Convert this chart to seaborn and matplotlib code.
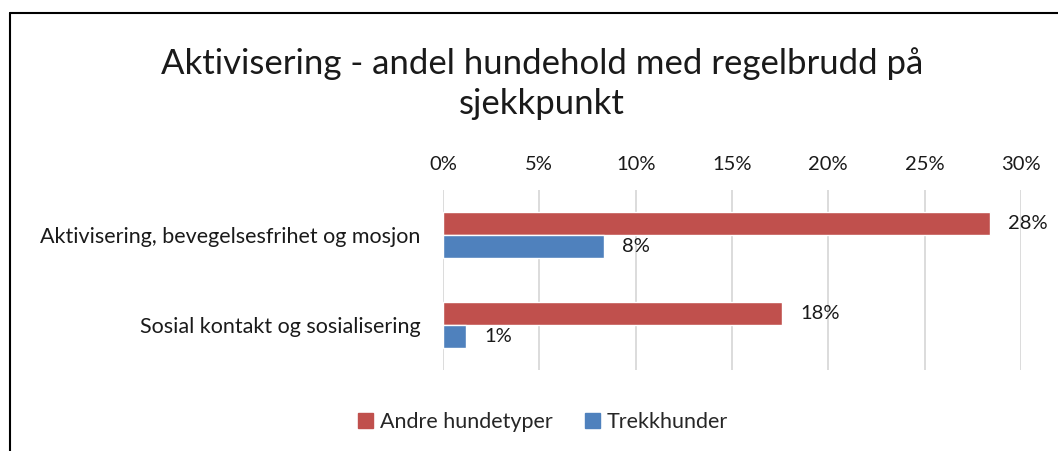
import pandas as pd
import matplotlib.pyplot as plt
import seaborn as sns
from matplotlib.lines import Line2D

# Chart data (percent)
categories = ["Aktivisering, bevegelsesfrihet og mosjon", "Sosial kontakt og sosialisering"]
series_names = ["Andre hundetyper", "Trekkhunder"]
andre = [28.4, 17.6]
trekk = [8.35, 1.2]
x_ticks = [0, 5, 10, 15, 20, 25, 30]
colors = ["#C0504D", "#4F81BD"]

df = pd.DataFrame({
    "kategori": categories * 2,
    "verdi": andre + trekk,
    "serie": [series_names[0]] * 2 + [series_names[1]] * 2,
})

sns.set_style("white")
plt.rcParams["font.family"] = ["Lato", "DejaVu Sans"]

fig = plt.figure(figsize=(10.58, 4.51), dpi=100)
ax = fig.add_axes([0.4187, 0.1796, 0.965 - 0.4187, 0.5787 - 0.1796])

sns.barplot(data=df, y="kategori", x="verdi", hue="serie", orient="h",
            palette=colors, width=0.51, ax=ax, legend=False, saturation=1)

for cont in ax.containers:
    ax.bar_label(cont, labels=[f"{v:.0f}%" for v in cont.datavalues],
                 padding=13, fontsize=14.5, color="#1a1a1a")

ax.set_xlim(0, 30)
ax.set_xticks(x_ticks)
ax.set_xticklabels([f"{t}%" for t in x_ticks])
ax.xaxis.tick_top()
ax.tick_params(axis="x", length=0, pad=12, labelsize=14.5, labelcolor="#1a1a1a")
ax.tick_params(axis="y", length=0, pad=16, labelsize=15.5, labelcolor="#1a1a1a")
ax.grid(axis="x", color="#D9D9D9", linewidth=1.3)
ax.set_axisbelow(True)
for s in ax.spines.values():
    s.set_visible(False)
ax.set_xlabel("")
ax.set_ylabel("")

fig.text(0.512, 0.814, "Aktivisering - andel hundehold med regelbrudd på\nsjekkpunkt",
         ha="center", va="center", fontsize=25, linespacing=1.3, color="#1a1a1a")

handles = [plt.Rectangle((0, 0), 1, 1, color=c) for c in colors]
fig.legend(handles, series_names, loc="center", bbox_to_anchor=(0.513, 0.064), ncol=2,
           frameon=False, fontsize=15.5, handlelength=0.7, handleheight=0.7,
           handletextpad=0.3, columnspacing=1.5)

# frame border (cropped screenshot: only top and left visible)
fig.add_artist(Line2D([10 / 1058, 1], [1 - 13 / 451, 1 - 13 / 451], color="black", lw=1.5,
                      transform=fig.transFigure))
fig.add_artist(Line2D([10 / 1058, 10 / 1058], [0, 1 - 13 / 451], color="black", lw=1.5,
                      transform=fig.transFigure))

fig.savefig("out.png", dpi=100)
